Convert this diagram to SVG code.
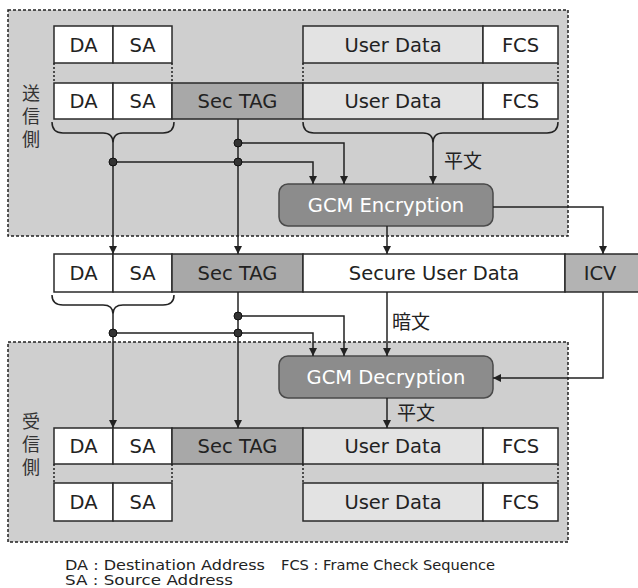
<svg xmlns="http://www.w3.org/2000/svg" width="638" height="588" viewBox="0 0 638 588">
<defs>
<marker id="arr" viewBox="0 0 10 10" refX="10" refY="5" markerWidth="8" markerHeight="8" markerUnits="userSpaceOnUse" orient="auto">
<path d="M0,0 L10,5 L0,10 z" fill="#222"/>
</marker>
</defs>
<style>
.region{fill:#cfcfcf;stroke:#222;stroke-width:1.5;stroke-dasharray:3 2}
.box{stroke:#2a2a2a;stroke-width:1.5}
.w{fill:#ffffff}
.ud{fill:#e3e3e3}
.tag{fill:#a8a8a8}
.icv{fill:#b3b3b3}
.gcm{fill:#8c8c8c;stroke:#4a4a4a;stroke-width:1.5}
.lbl{font-family:"DejaVu Sans",sans-serif;font-size:19.5px;fill:#222;text-anchor:middle}
.gt{font-family:"DejaVu Sans",sans-serif;font-size:19.5px;fill:#ffffff;text-anchor:middle}
.jp{font-family:"Noto Sans CJK JP",sans-serif;font-size:19px;fill:#222}
.side{font-family:"Noto Sans CJK JP",sans-serif;font-size:18px;fill:#333;writing-mode:vertical-rl;text-orientation:upright;letter-spacing:5px}
.leg{font-family:"DejaVu Sans",sans-serif;font-size:14px;fill:#222}
.ln{fill:none;stroke:#222;stroke-width:1.5}
.dl{fill:none;stroke:#222;stroke-width:1.5;stroke-dasharray:2 2}
.ar{fill:none;stroke:#222;stroke-width:1.5;marker-end:url(#arr)}
.dot{fill:#333;stroke:#111;stroke-width:1}
</style>

<g id="sender-region">
<rect class="region" x="8" y="10" width="560" height="226"/>
<text class="side" x="31" y="84">送信側</text>
</g>
<g id="receiver-region">
<rect class="region" x="8" y="342" width="560" height="200"/>
<text class="side" x="31" y="412">受信側</text>
</g>

<g id="send-frame-plain">
<rect class="box w" x="54" y="26" width="59" height="37"/>
<rect class="box w" x="113" y="26" width="59" height="37"/>
<rect class="box ud" x="303" y="26" width="180" height="37"/>
<rect class="box w" x="483" y="26" width="75" height="37"/>
<text class="lbl" x="83.5" y="51.5">DA</text>
<text class="lbl" x="142.5" y="51.5">SA</text>
<text class="lbl" x="393" y="51.5">User Data</text>
<text class="lbl" x="520.5" y="51.5">FCS</text>
</g>
<g id="send-frame-tagged">
<rect class="box w" x="54" y="83" width="59" height="36"/>
<rect class="box w" x="113" y="83" width="59" height="36"/>
<rect class="box tag" x="172" y="83" width="131" height="36"/>
<rect class="box ud" x="303" y="83" width="180" height="36"/>
<rect class="box w" x="483" y="83" width="75" height="36"/>
<text class="lbl" x="83.5" y="108">DA</text>
<text class="lbl" x="142.5" y="108">SA</text>
<text class="lbl" x="237.5" y="108">Sec TAG</text>
<text class="lbl" x="393" y="108">User Data</text>
<text class="lbl" x="520.5" y="108">FCS</text>
</g>

<g id="gcm-encryption">
<rect class="gcm" x="279" y="184" width="214" height="42" rx="9"/>
<text class="gt" x="386" y="212">GCM Encryption</text>
</g>

<g id="secure-frame">
<rect class="box w" x="54" y="254" width="59" height="38"/>
<rect class="box w" x="113" y="254" width="59" height="38"/>
<rect class="box tag" x="172" y="254" width="131" height="38"/>
<rect class="box w" x="303" y="254" width="262" height="38"/>
<rect class="box icv" x="565" y="254" width="80" height="38"/>
<text class="lbl" x="83.5" y="280">DA</text>
<text class="lbl" x="142.5" y="280">SA</text>
<text class="lbl" x="237.5" y="280">Sec TAG</text>
<text class="lbl" x="434" y="280">Secure User Data</text>
<text class="lbl" x="600" y="280">ICV</text>
</g>

<g id="gcm-decryption">
<rect class="gcm" x="279" y="356" width="214" height="42" rx="9"/>
<text class="gt" x="386" y="384">GCM Decryption</text>
</g>

<g id="recv-frame-tagged">
<rect class="box w" x="54" y="428" width="59" height="36"/>
<rect class="box w" x="113" y="428" width="59" height="36"/>
<rect class="box tag" x="172" y="428" width="131" height="36"/>
<rect class="box ud" x="303" y="428" width="180" height="36"/>
<rect class="box w" x="483" y="428" width="75" height="36"/>
<text class="lbl" x="83.5" y="453">DA</text>
<text class="lbl" x="142.5" y="453">SA</text>
<text class="lbl" x="237.5" y="453">Sec TAG</text>
<text class="lbl" x="393" y="453">User Data</text>
<text class="lbl" x="520.5" y="453">FCS</text>
</g>
<g id="recv-frame-plain">
<rect class="box w" x="54" y="483" width="59" height="38"/>
<rect class="box w" x="113" y="483" width="59" height="38"/>
<rect class="box ud" x="303" y="483" width="180" height="38"/>
<rect class="box w" x="483" y="483" width="75" height="38"/>
<text class="lbl" x="83.5" y="509">DA</text>
<text class="lbl" x="142.5" y="509">SA</text>
<text class="lbl" x="393" y="509">User Data</text>
<text class="lbl" x="520.5" y="509">FCS</text>
</g>

<g id="connectors">
<path class="dl" d="M54,63 V83 M172,63 V83 M303,63 V83 M558,63 V83"/>
<path class="dl" d="M54,464 V483 M172,464 V483 M303,464 V483 M558,464 V483"/>
<path class="ln" d="M52,122 Q52,133 63,133 H103 Q113,133 113,143 M174,122 Q174,133 163,133 H123 Q113,133 113,143"/>
<path class="ln" d="M303,122 Q303,133 314,133 H423 Q433,133 433,143 M558,122 Q558,133 547,133 H443 Q433,133 433,143"/>
<path class="ln" d="M52,295 Q52,305 63,305 H103 Q113,305 113,314 M174,295 Q174,305 163,305 H123 Q113,305 113,314"/>
<path class="ar" d="M113,143 V254"/>
<path class="ar" d="M238,119 V254"/>
<path class="ar" d="M238,143 H344 V184"/>
<path class="ar" d="M113,162 H313 V184"/>
<path class="ar" d="M433,143 V184"/>
<path class="ar" d="M387,226 V254"/>
<path class="ar" d="M493,207 H603 V254"/>
<path class="ar" d="M113,314 V428"/>
<path class="ar" d="M238,292 V428"/>
<path class="ar" d="M238,316 H344 V356"/>
<path class="ar" d="M113,333 H313 V356"/>
<path class="ar" d="M387,292 V356"/>
<path class="ar" d="M603,292 V378 H493"/>
<path class="ar" d="M387,398 V428"/>
<circle class="dot" cx="238" cy="143" r="4"/>
<circle class="dot" cx="238" cy="162" r="4"/>
<circle class="dot" cx="113" cy="162" r="4"/>
<circle class="dot" cx="238" cy="316" r="4"/>
<circle class="dot" cx="238" cy="333" r="4"/>
<circle class="dot" cx="113" cy="333" r="4"/>
<text class="jp" x="444" y="168">平文</text>
<text class="jp" x="392" y="329">暗文</text>
<text class="jp" x="397" y="420">平文</text>
</g>

<g id="legend">
<text class="leg" x="65" y="570" textLength="200" lengthAdjust="spacingAndGlyphs">DA : Destination Address</text>
<text class="leg" x="281" y="570" textLength="214" lengthAdjust="spacingAndGlyphs">FCS : Frame Check Sequence</text>
<text class="leg" x="65" y="585" textLength="168" lengthAdjust="spacingAndGlyphs">SA : Source Address</text>
</g>
</svg>
